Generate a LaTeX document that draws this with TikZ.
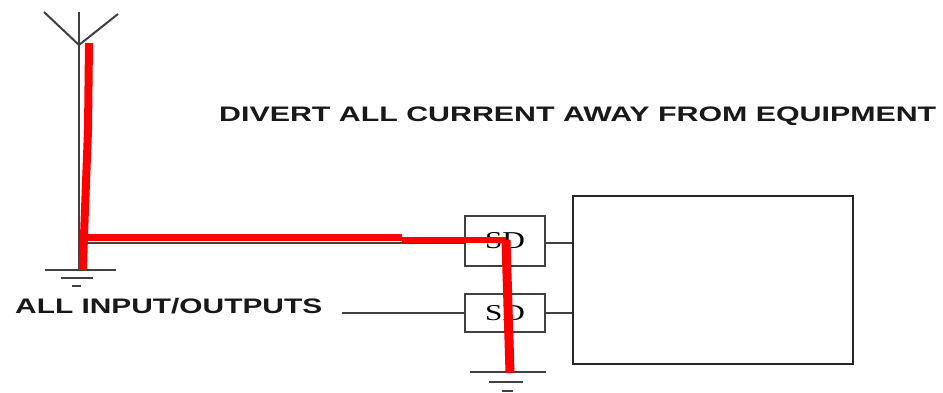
\documentclass[tikz,border=0pt]{standalone}
\usepackage{fontspec}
\setmainfont{Liberation Serif}
\newfontfamily\labelfont{Liberation Sans}
\usepackage{graphicx}
\begin{document}
\begin{tikzpicture}[x=1pt,y=-1pt,
  wire/.style={draw=black!75,line width=2pt},
  redline/.style={draw=red,line width=8pt,line join=round},
  sdbox/.style={draw=black!75,line width=2pt,rectangle,minimum width=80pt,inner sep=0pt},
  eqbox/.style={draw=black!85,line width=2.2pt,rectangle,minimum width=280pt,minimum height=168pt,inner sep=0pt},
  caption/.style={inner sep=0pt,anchor=base west,text=black!90}
]
\useasboundingbox (0,0) rectangle (943,393);
% antenna
\coordinate (antL) at (44,12);
\coordinate (antR) at (118,14);
\coordinate (antJ) at (79,45);
\coordinate (mastTop) at (79,12);
\coordinate (mastBot) at (79,270);
\draw[wire] (mastTop) -- (mastBot);
\draw[wire] (antL) -- (antJ) -- (antR);
% left ground
\coordinate (gL1a) at (45,270); \coordinate (gL1b) at (116,270);
\coordinate (gL2a) at (61,278); \coordinate (gL2b) at (93,278);
\coordinate (gL3a) at (72,286); \coordinate (gL3b) at (81,286);
\draw[wire] (gL1a) -- (gL1b);
\draw[wire] (gL2a) -- (gL2b);
\draw[wire] (gL3a) -- (gL3b);
% boxes
\node[sdbox,minimum height=50pt] (sd1) at (505,241) {\resizebox{40pt}{16pt}{SD}};
\node[sdbox,minimum height=38pt] (sd2) at (505,313) {\resizebox{40pt}{15pt}{SD}};
\node[eqbox] (eq) at (713,280) {};
% wires
\coordinate (wireStart) at (84,243);
\coordinate (ioStart) at (342,313);
\draw[wire] (wireStart) -- (wireStart -| sd1.west);
\draw[wire] (ioStart) -- (ioStart -| sd2.west);
\draw[wire] (sd1.east |- wireStart) -- (eq.west |- wireStart);
\draw[wire] (sd2.east |- ioStart) -- (eq.west |- ioStart);
% right ground
\coordinate (gR1a) at (470,372); \coordinate (gR1b) at (546,372);
\coordinate (gR2a) at (489,382); \coordinate (gR2b) at (523,382);
\coordinate (gR3a) at (502,391); \coordinate (gR3b) at (513,391);
\draw[wire] (gR1a) -- (gR1b);
\draw[wire] (gR2a) -- (gR2b);
\draw[wire] (gR3a) -- (gR3b);
% red current path
\coordinate (r0) at (89,43);
\coordinate (r1) at (88,130);
\coordinate (r2) at (84,236);
\coordinate (r3) at (83,270);
\draw[redline,line width=8pt] (r0) -- (r1) -- (r2) -- (r3);
\coordinate (h0) at (84,237);
\coordinate (h1) at (402,237);
\coordinate (h2) at (402,240);
\coordinate (h3) at (506,240);
\coordinate (v1) at (510,373);
\draw[redline,line width=7pt] (h0) -- (h1);
\draw[redline,line width=6pt] (h2) -- (h3);
\draw[redline,line width=9pt] (h3) -- (v1);
% texts
\node[caption] (divert) at (219,122) {\resizebox{717pt}{\height}{\labelfont\fontsize{21}{21}\selectfont\bfseries DIVERT ALL CURRENT AWAY FROM EQUIPMENT}};
\node[caption] (io) at (15,313) {\resizebox{307pt}{\height}{\labelfont\fontsize{21}{21}\selectfont\bfseries ALL INPUT/OUTPUTS}};
\end{tikzpicture}
\end{document}
